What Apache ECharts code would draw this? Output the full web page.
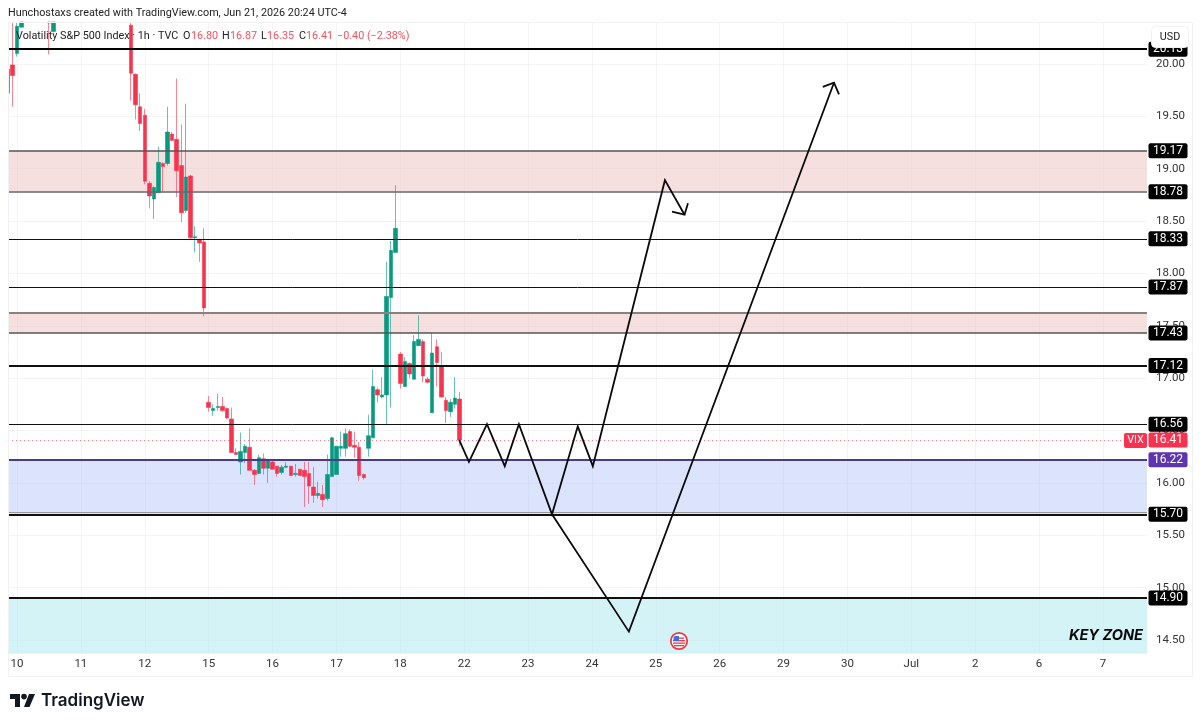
<!DOCTYPE html>
<html><head><meta charset="utf-8">
<style>html,body{margin:0;padding:0;background:#fff}#c{width:1200px;height:726px}</style>
<script src="https://cdn.jsdelivr.net/npm/echarts@6/dist/echarts.min.js"></script>
</head><body><div id="c"></div>
<script>
// candle positions: hourly bar number, 14 bars per trading day, day "10" = 0
const barIndex = [-2,-1,0,1,7,8,25,26,27,28,29,30,31,32,33,34,35,36,37,38,39,40,41,
 42,43,44,45,46,47,48,49,50,51,52,53,54,55,56,57,58,59,60,61,62,63,64,65,66,67,68,69,70,71,72,73,74,75,76,77,78,79,80,81,82,83,
 84,85,86,87,88,89,90,91,92,93,94,95,96,97];
const opens = [19.72,19.99,20.10,20.35,20.40,20.31,20.37,19.90,19.59,19.51,18.86,18.71,18.77,19.05,19.05,19.33,19.28,19.03,18.60,18.93,18.34,18.32,18.30,
 16.77,16.69,16.72,16.73,16.71,16.61,16.29,16.20,16.29,16.34,16.12,16.09,16.23,16.14,16.20,16.16,16.10,16.15,16.16,16.08,16.13,16.12,16.09,15.96,15.88,15.89,15.85,16.06,16.08,16.33,16.33,16.49,16.36,16.34,16.08,16.33,16.43,16.89,16.82,16.84,17.77,18.20,
 17.23,16.92,17.14,16.99,17.31,17.35,16.99,16.67,17.30,17.12,16.79,16.68,16.75,16.80];
const closes = [19.95,19.89,20.36,20.40,20.39,20.40,19.91,19.61,19.43,18.88,18.74,18.82,19.06,19.02,19.35,19.27,18.98,18.58,18.92,18.34,18.35,18.29,17.67,
 16.72,16.71,16.73,16.69,16.62,16.29,16.27,16.30,16.35,16.12,16.08,16.24,16.14,16.21,16.13,16.09,16.15,16.16,16.07,16.09,16.07,16.06,15.97,15.88,15.90,15.84,16.08,16.43,16.35,16.35,16.47,16.35,16.34,16.07,16.05,16.45,16.92,16.84,16.84,17.78,18.22,18.43,
 16.95,17.16,17.04,17.35,17.37,17.02,16.96,17.24,17.15,16.82,16.69,16.77,16.81,16.41];
const lows = [19.58,19.59,20.07,20.35,20.09,20.30,19.65,19.47,19.36,18.85,18.62,18.52,18.77,18.78,19.03,19.26,18.73,18.49,18.58,18.33,18.20,18.11,17.59,
 16.68,16.64,16.69,16.68,16.61,16.29,16.27,16.08,16.19,16.12,15.98,16.09,16.08,16.00,16.13,16.06,16.08,16.14,16.07,16.06,16.07,15.77,15.80,15.81,15.85,15.77,15.83,16.06,16.08,16.25,16.25,16.34,16.24,16.02,16.03,16.25,16.43,16.77,16.81,16.55,16.72,18.20,
 16.90,16.92,17.00,16.99,17.31,16.96,16.95,16.67,16.92,16.82,16.57,16.63,16.71,16.35];
const highs = [19.98,20.40,20.40,20.40,20.40,20.40,20.40,19.91,19.72,19.57,18.88,18.83,19.21,19.06,19.59,19.35,19.86,19.42,19.62,18.94,18.45,18.33,18.43,
 16.83,16.75,16.85,16.82,16.72,16.72,16.33,16.48,16.37,16.52,16.13,16.27,16.28,16.23,16.21,16.16,16.17,16.20,16.16,16.18,16.13,16.20,16.20,16.15,16.01,15.98,16.27,16.44,16.35,16.49,16.52,16.51,16.49,16.39,16.09,16.65,17.08,16.91,17.01,18.11,18.31,18.84,
 17.25,17.20,17.15,17.41,17.60,17.37,17.01,17.43,17.37,17.25,16.82,16.80,17.01,16.87];

const dayTicks = [0,14,28,42,56,70,84,98,112,126,140,154,168,182,196,210,224,238];
const dayLabels = ['10','11','12','15','16','17','18','22','23','24','25','26','29','30','Jul','2','6','7'];
const priceTicks = [14.5,15,15.5,16,16.5,17,17.5,18,18.5,19,19.5,20];

// drawn levels: value, tag, line colour, line width
const levelValues = [20.14,19.17,18.78,18.33,17.87,17.62,17.43,17.12,16.56,16.22,15.72,15.70,14.90];
const levelTags   = ['20.13','19.17','18.78','18.33','17.87','','17.43','17.12','16.56','16.22','','15.70','14.90'];
const levelColors = ['#000','#555','#667','#111','#111','#8a8080','#555','#111','#111','#4a3a8c','#999','#111','#111'];
const levelWidths = [2,1.5,1.5,1,1,2,1.5,2,1,2,1,2,2];
const lastPrice = 16.41;

// zones: top, bottom, fill
const zoneTops = [19.17,17.62,16.22,14.90];
const zoneBottoms = [18.78,17.43,15.70,14.376];
const zoneFills = ['rgba(236,190,186,0.47)','rgba(236,190,186,0.47)','rgba(186,200,250,0.5)','rgba(170,232,240,0.5)'];

// hand-drawn paths (bar number, price)
const path1Bars = [96.9,99.05,103,106.9,110,117.25,122.9,126.2,142,146.3];
const path1Vals = [16.41,16.20,16.56,16.16,16.56,15.70,16.54,16.16,18.89,18.56];
const head1Bars = [143.55,146.3,147.05];
const head1Vals = [18.59,18.56,18.67];
const path2Bars = [117.25,134.1,179.05];
const path2Vals = [15.70,14.58,19.82];
const head2Bars = [176.6,179.05,180.15];
const head2Vals = [19.78,19.82,19.71];

const UP='#089981', DOWN='#f7334f';
const FONT='Roboto, "Noto Sans", sans-serif';
const zip=(a,b)=>a.map((v,i)=>[v,b[i]]);
const pen=(name,bars,vals,w)=>({name,type:'line',data:zip(bars,vals),symbol:'none',silent:true,z:6,
  lineStyle:{color:'#0a0a0a',width:w||1.8,join:'miter'}});

const levelLines = levelValues.map((v,i)=>({
  yAxis:v,
  lineStyle:{color:levelColors[i],width:levelWidths[i],type:'solid'},
  label: levelTags[i] ? {show:true,position:'end',distance:21,formatter:levelTags[i],color:'#fff',
    backgroundColor: v===16.22?'#5e35b1':'#000',borderRadius:2,width:39,height:15,lineHeight:15,align:'center',verticalAlign:'middle',
    fontSize:12,fontFamily:FONT} : {show:false}
}));
levelLines.push({yAxis:lastPrice,lineStyle:{color:'rgba(247,51,79,0.65)',width:1,type:[1,3]},
  label:{show:true,position:'end',distance:21,formatter:'16.41',color:'#fff',backgroundColor:'#f7334f',borderRadius:2,
    width:39,height:15,lineHeight:15,align:'center',verticalAlign:'middle',fontSize:12,fontFamily:FONT}});

const chart=echarts.init(document.getElementById('c'),null,{renderer:'canvas'});

const F='10.8px '+FONT;
const t=(x,y,text,o)=>({type:'text',x,y,z:50,silent:true,style:Object.assign({text,fill:'#2a2a2a',font:F,textVerticalAlign:'middle'},o||{})});
const r=(x,y,w,h,fill,o)=>({type:'rect',silent:true,z:50,shape:Object.assign({x,y,width:w,height:h},o&&o.shape||{}),style:Object.assign({fill},o&&o.style||{})});
const RED='#f7525f';

chart.setOption({
  animation:false,
  backgroundColor:'#fff',
  grid:{left:8,right:53,top:22,bottom:73,containLabel:false},
  xAxis:{type:'value',min:-1.97,max:247.65,
    axisLine:{show:false},
    axisTick:{show:false,customValues:dayTicks},
    splitLine:{show:true,lineStyle:{color:'rgba(120,130,140,0.09)',width:1}},
    axisLabel:{customValues:dayTicks,margin:5,color:'#333',fontSize:11.5,fontFamily:FONT,showMinLabel:true,showMaxLabel:true,
      formatter:v=>dayLabels[dayTicks.indexOf(v)]}},
  yAxis:{type:'value',position:'right',min:14.376,max:20.4,
    axisLine:{show:false},
    axisTick:{show:false,customValues:priceTicks},
    splitLine:{show:true,lineStyle:{color:'rgba(120,130,140,0.09)',width:1}},
    axisLabel:{customValues:priceTicks,margin:9,color:'#333',fontSize:11.5,fontFamily:FONT,padding:[2,0,0,0],formatter:v=>v.toFixed(2)}},
  series:[
    {name:'zones',type:'line',data:[[0,16]],symbol:'none',lineStyle:{opacity:0},silent:true,z:1,
      markArea:{silent:true,data:zoneTops.map((v,i)=>[{yAxis:v,itemStyle:{color:zoneFills[i]}},{yAxis:zoneBottoms[i]}])}},
    {name:'VIX',type:'candlestick',z:3,barWidth:4,clip:true,silent:true,
      data:barIndex.map((b,i)=>[b,opens[i],closes[i],lows[i],highs[i]]),
      encode:{x:0,y:[1,2,3,4]},
      itemStyle:{color:UP,color0:DOWN,borderColor:'rgba(8,153,129,0.6)',borderColor0:'rgba(247,51,79,0.6)',borderWidth:1}},
    {name:'levels',type:'line',data:[[0,16]],symbol:'none',lineStyle:{opacity:0},silent:true,z:5,
      markLine:{silent:true,symbol:'none',data:levelLines}},
    pen('path1',path1Bars,path1Vals),
    pen('head1',head1Bars,head1Vals),
    pen('path2',path2Bars,path2Vals),
    pen('head2',head2Bars,head2Vals)
  ],
  graphic:[
    r(0,22,8,120,'#fff',{}),
    {type:'rect',silent:true,z:51,shape:{x:8.5,y:22.5,width:1184,height:654},style:{fill:'none',stroke:'#f0f1f3',lineWidth:1}},
    {type:'line',silent:true,z:0,shape:{x1:8,y1:653.5,x2:1147,y2:653.5},style:{stroke:'#f0f1f3',lineWidth:1}},
    t(8,13,'Hunchostaxs created with TradingView.com, Jun 21, 2026 20:24 UTC-4',{fill:'#222'}),
    t(16,36,'Volatility S&P 500 Index · 1h · TVC',{fill:'#222'}),
    t(183,36,'O',{fill:'#222'}),t(191,36,'16.80',{fill:RED}),
    t(222,36,'H',{fill:'#222'}),t(230,36,'16.87',{fill:RED}),
    t(261,36,'L',{fill:'#222'}),t(267,36,'16.35',{fill:RED}),
    t(299,36,'C',{fill:'#222'}),t(306,36,'16.41',{fill:RED}),
    t(337,36,'−0.40 (−2.38%)',{fill:RED}),
    {type:'rect',silent:true,z:60,zlevel:1,shape:{x:1151.5,y:26.5,width:37,height:21,r:4},style:{fill:'#fff',stroke:'#f0f1f3',lineWidth:1}},
    {type:'text',silent:true,z:61,zlevel:1,x:1170,y:37,style:{text:'USD',font:F,fill:'#222',textAlign:'center',textVerticalAlign:'middle'}},
    {type:'rect',silent:true,z:50,shape:{x:1124,y:433,width:23,height:15,r:2},style:{fill:DOWN}},
    {type:'text',silent:true,z:51,x:1135.5,y:440.5,style:{text:'VIX',font:F,fill:'#fff',textAlign:'center',textVerticalAlign:'middle'}},
    {type:'text',silent:true,z:50,x:1143,y:636,style:{text:'KEY ZONE',font:'italic 700 14.6px Inter, '+FONT,fill:'#0a0a0a',textAlign:'right',textVerticalAlign:'middle'}},
    {type:'circle',silent:true,z:50,shape:{cx:679,cy:641,r:8.2},style:{fill:'#fff',stroke:'#f23645',lineWidth:1.8}},
    r(674,637.5,10,1.3,'#f23645'),r(673,640,12,1.3,'#f23645'),r(673,642.5,12,1.3,'#f23645'),r(674,645,10,1.3,'#f23645'),
    r(673.5,636,5.5,5,'#3f6fd8',{shape:{r:[2,0,0,0]}}),
    {type:'polygon',silent:true,z:50,shape:{points:[[10,694],[20,694],[20,707],[15,707],[15,699],[10,699]]},style:{fill:'#131722'}},
    {type:'polygon',silent:true,z:50,shape:{points:[[29,694],[35,694],[29.5,707],[24,707]]},style:{fill:'#131722'}},
    {type:'circle',silent:true,z:50,shape:{cx:24,cy:696.6,r:2.8},style:{fill:'#131722'}},
    {type:'text',silent:true,z:50,x:41,y:700.5,style:{text:'TradingView',font:'600 17px Inter, '+FONT,fill:'#131722',textVerticalAlign:'middle'}}
  ]
});
</script></body></html>
